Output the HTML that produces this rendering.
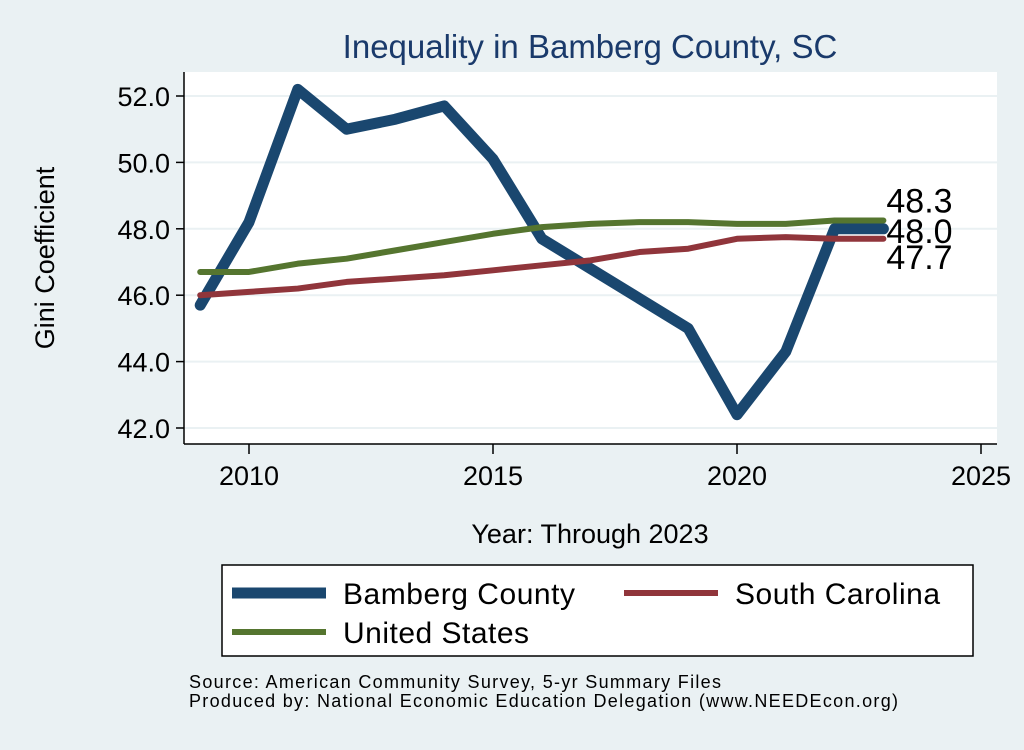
<!DOCTYPE html>
<html><head><meta charset="utf-8"><style>
body{margin:0;background:#eaf1f3;}
svg text{font-family:"Liberation Sans",sans-serif;}
</style></head><body>
<svg width="1024" height="745" viewBox="0 0 1024 745">
<rect x="0" y="0" width="1024" height="745" fill="#eaf1f3"/>
<text x="590" y="58" font-size="33" fill="#1a3a6b" text-anchor="middle">Inequality in Bamberg County, SC</text>
<rect x="184" y="72" width="813" height="372" fill="#fff"/>
<g id="grid"></g>
<g id="axes"></g>
<g id="series"></g>
<g id="labels"></g>
<text transform="translate(54,258) rotate(-90)" font-size="27" text-anchor="middle" fill="#000">Gini Coefficient</text>
<text x="590" y="543" font-size="27" text-anchor="middle" fill="#000">Year: Through 2023</text>
<g>
<rect x="222" y="565" width="751" height="91" fill="#fff" stroke="#000" stroke-width="1.5"/>
<line x1="232" y1="593" x2="326" y2="593" stroke="#1a476f" stroke-width="11"/>
<text x="343" y="604" font-size="30" textLength="232">Bamberg County</text>
<line x1="624" y1="593" x2="718" y2="593" stroke="#90353b" stroke-width="6"/>
<text x="735" y="604" font-size="30" textLength="205">South Carolina</text>
<line x1="232" y1="632" x2="326" y2="632" stroke="#55752f" stroke-width="6"/>
<text x="343" y="643" font-size="30" textLength="186">United States</text>
</g>
<text x="189" y="688" font-size="18" textLength="532">Source: American Community Survey, 5-yr Summary Files</text>
<text x="189" y="707" font-size="18" textLength="709">Produced by: National Economic Education Delegation (www.NEEDEcon.org)</text>
</svg>
<script>
const years=[2009,2010,2011,2012,2013,2014,2015,2016,2017,2018,2019,2020,2021,2022,2023];
const bamberg=[45.7,48.2,52.2,51.0,51.3,51.7,50.1,47.7,46.8,45.9,45.0,42.4,44.3,48.0,48.0];
const southCarolina=[46.0,46.1,46.2,46.4,46.5,46.6,46.75,46.9,47.05,47.3,47.4,47.7,47.75,47.7,47.7];
const unitedStates=[46.7,46.7,46.95,47.1,47.35,47.6,47.85,48.05,48.15,48.2,48.2,48.15,48.15,48.25,48.25];
const yTicks=[42,44,46,48,50,52];
const xTicks=[2010,2015,2020,2025];
const endLabels=["48.3","48.0","47.7"];
const NS="http://www.w3.org/2000/svg";
const X=v=>249+(v-2010)*48.8;
const Y=v=>428-(v-42)*33.2;
function mk(t,a,p){const e=document.createElementNS(NS,t);for(const k in a)e.setAttribute(k,a[k]);p.appendChild(e);return e;}
const grid=document.getElementById('grid'),axes=document.getElementById('axes');
yTicks.forEach(t=>{
 const g=mk('line',{x1:184,x2:997,y1:Y(t),y2:Y(t),stroke:'#eaf1f3','stroke-width':2},grid);
 
 
 const tk=mk('line',{x1:176,x2:184,y1:Y(t),y2:Y(t),stroke:'#000','stroke-width':1.5},axes);
 
 
 const tx=mk('text',{x:170,y:Y(t)+10,'font-size':27,'text-anchor':'end'},axes);
 tx.textContent=t.toFixed(1);
 
 
});
xTicks.forEach(t=>{
 const tk=mk('line',{x1:X(t),x2:X(t),y1:444,y2:454,stroke:'#000','stroke-width':1.5},axes);
 
 
 const tx=mk('text',{x:X(t),y:485,'font-size':27,'text-anchor':'middle'},axes);
 tx.textContent=t;
 
 
});
const ya=mk('line',{x1:184,x2:184,y1:72,y2:444,stroke:'#000','stroke-width':1.5},axes);


const xa=mk('line',{x1:184,x2:997,y1:444,y2:444,stroke:'#000','stroke-width':1.5},axes);


const ser=document.getElementById('series');
function line(vals,col,w,name){
 const p=mk('polyline',{points:vals.map((v,i)=>X(years[i])+','+Y(v)).join(' '),fill:'none',stroke:col,'stroke-width':w,'stroke-linejoin':'round','stroke-linecap':'round'},ser);
 
 
}
line(bamberg,'#1a476f',11,'line-bamberg');
line(southCarolina,'#90353b',6,'line-south-carolina');
line(unitedStates,'#55752f',6,'line-united-states');
const lab=document.getElementById('labels');
const lx=X(2023)+3;
[[endLabels[0],Y(unitedStates[14])-8],[endLabels[1],Y(bamberg[14])+14],[endLabels[2],Y(southCarolina[14])+30]].forEach((d,i)=>{
 const t=mk('text',{x:lx,y:d[1],'font-size':34},lab);
 t.textContent=d[0];
 
 
});
</script>
</body></html>
